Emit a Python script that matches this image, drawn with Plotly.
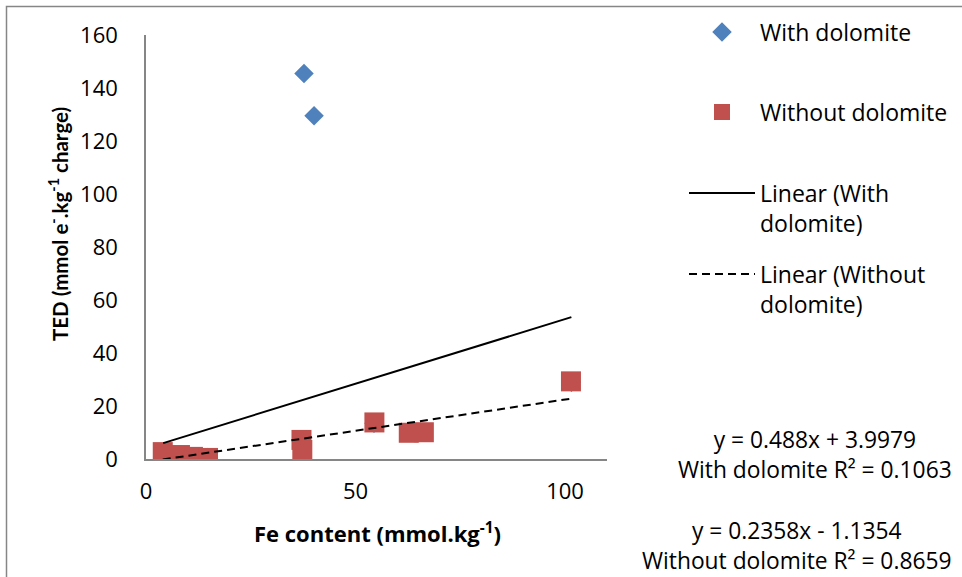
import plotly.graph_objects as go

# Fe content (mmol/kg) vs total electron demand, with and without dolomite
fe_with = [4.1, 8.2, 14.6, 37.3, 37.7, 40.1, 54.4, 101.5]
ted_with = [1.5, 1.2, 0.6, 4.5, 145.5, 129.5, 13.5, 29.0]

fe_without = [4.0, 4.3, 8.1, 11.2, 14.8, 37.1, 37.3, 54.5, 62.7, 66.3, 101.4]
ted_without = [2.6, 0.4, 1.5, 0.8, 0.4, 7.2, 3.4, 13.8, 9.9, 10.1, 29.3]

# Linear trend lines (slope, intercept, R²)
fit_with = (0.488, 3.9979, 0.1063)
fit_without = (0.2358, -1.1354, 0.8659)

x_ticks = [0, 50, 100]
y_ticks = [0, 20, 40, 60, 80, 100, 120, 140, 160]

W, H = 962, 577
L, R, T, B = 146, 607, 35, 459
FONT = "Open Sans"


def px_x(px):
    return (px - L) / (R - L)


def px_y(py):
    return (B - py) / (B - T)


def trend(xs, fit):
    x0, x1 = min(xs), max(xs)
    return [x0, x1], [fit[0] * x0 + fit[1], fit[0] * x1 + fit[1]]


fig = go.Figure()

fig.add_trace(go.Scatter(
    x=fe_with, y=ted_with, mode="markers", name="With dolomite",
    marker=dict(symbol="diamond", size=15, color="#4F81BD"),
    legend="legend",
))
fig.add_trace(go.Scatter(
    x=fe_without, y=ted_without, mode="markers", name="Without dolomite",
    marker=dict(symbol="square", size=20, color="#C0504D"),
    legend="legend2",
))
tx, ty = trend(fe_with, fit_with)
fig.add_trace(go.Scatter(
    x=tx, y=ty, mode="lines", name="Linear (With<br>dolomite)",
    line=dict(color="black", width=2),
    legend="legend3",
))
tx, ty = trend(fe_without, fit_without)
fig.add_trace(go.Scatter(
    x=tx, y=ty, mode="lines", name="Linear (Without<br>dolomite)",
    line=dict(color="black", width=2, dash="8px,5px"),
    legend="legend4",
))

leg_font = dict(family=FONT, size=23, color="black")


def legend_at(py):
    return dict(
        xref="container", yref="container",
        x=684 / W, y=1 - py / H, xanchor="left", yanchor="middle",
        font=leg_font, itemwidth=66, valign="top",
        bgcolor="rgba(0,0,0,0)", borderwidth=0,
    )


sign = "+" if fit_with[1] >= 0 else "-"
eq_with = f"y = {fit_with[0]}x {sign} {abs(fit_with[1])}<br>With dolomite R² = {fit_with[2]}"
sign = "+" if fit_without[1] >= 0 else "-"
eq_without = f"y = {fit_without[0]}x {sign} {abs(fit_without[1])}<br>Without dolomite R² = {fit_without[2]}"

txt = dict(family=FONT, size=22.8, color="black")
bold_x = dict(family=FONT, size=22, color="black", weight="bold")
bold_y = dict(family="Lato", size=20.5, color="black", weight="bold")
tick_font = dict(family=FONT, size=22, color="black")

fig.update_layout(
    width=W, height=H,
    margin=dict(l=L, r=W - R, t=T, b=H - B),
    paper_bgcolor="white", plot_bgcolor="white",
    showlegend=True,
    legend=legend_at(32),
    legend2=legend_at(112),
    legend3=legend_at(208),
    legend4=legend_at(289),
    xaxis=dict(
        range=[0, 110], tickvals=x_ticks, showgrid=False, zeroline=False,
        showline=True, linecolor="#868686", linewidth=1.5,
        ticks="", ticklabelstandoff=12,
        tickfont=tick_font,
    ),
    yaxis=dict(
        range=[0, 160], tickvals=y_ticks, showgrid=False, zeroline=False,
        showline=True, linecolor="#868686", linewidth=1.5,
        ticks="", ticklabelstandoff=22,
        tickfont=tick_font,
    ),
    annotations=[
        dict(xref="paper", yref="paper", x=px_x(58), y=px_y(224), textangle=-90,
             text="TED (mmol e<sup>-</sup>.kg<sup>-1</sup> charge)",
             showarrow=False, font=bold_y, xanchor="center", yanchor="middle"),
        dict(xref="paper", yref="paper", x=px_x(377), y=px_y(532),
             text="Fe content (mmol.kg<sup>-1</sup>)",
             showarrow=False, font=bold_x, xanchor="center", yanchor="middle"),
        dict(xref="paper", yref="paper", x=px_x(815), y=px_y(454),
             text=eq_with, showarrow=False, font=txt, align="center",
             xanchor="center", yanchor="middle"),
        dict(xref="paper", yref="paper", x=px_x(797), y=px_y(545),
             text=eq_without, showarrow=False, font=txt, align="center",
             xanchor="center", yanchor="middle"),
    ],
    shapes=[
        dict(type="rect", xref="paper", yref="paper",
             x0=px_x(6.5), x1=px_x(980), y0=px_y(600), y1=px_y(6.5),
             line=dict(color="#868686", width=1.5), layer="below"),
    ],
)

fig.write_html("out.html")
